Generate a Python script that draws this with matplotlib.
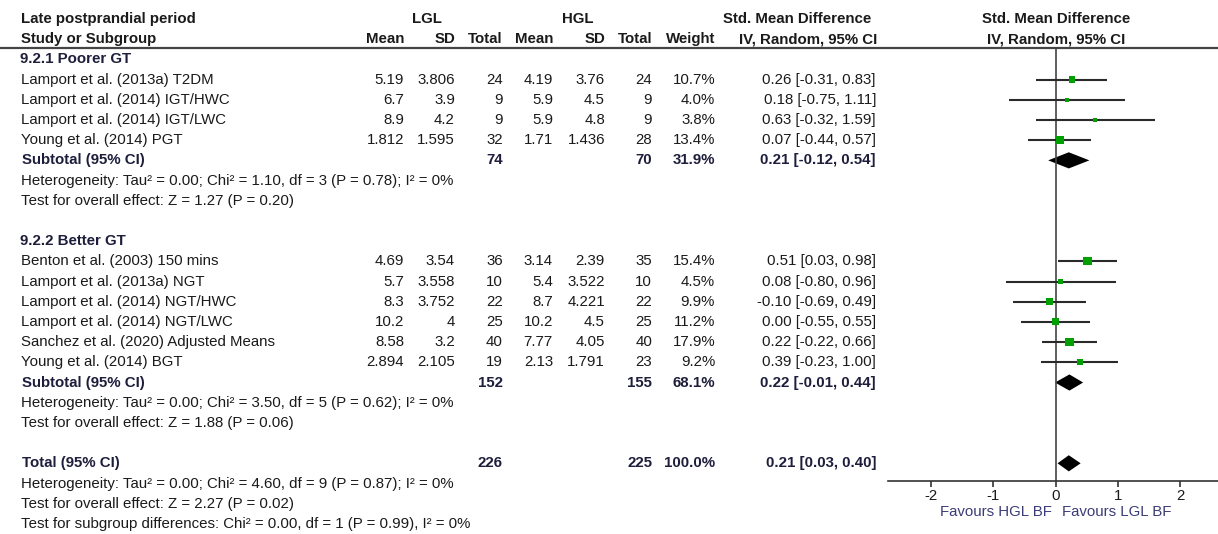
import numpy as np
import matplotlib.pyplot as plt

plt.rcParams['font.family'] = ['Liberation Sans', 'DejaVu Sans']

# subgroup 9.2.1 Poorer GT
poor_study = ['Lamport et al. (2013a) T2DM', 'Lamport et al. (2014) IGT/HWC',
              'Lamport et al. (2014) IGT/LWC', 'Young et al. (2014) PGT']
poor_lgl_mean = ['5.19', '6.7', '8.9', '1.812']
poor_lgl_sd = ['3.806', '3.9', '4.2', '1.595']
poor_lgl_n = [24, 9, 9, 32]
poor_hgl_mean = ['4.19', '5.9', '5.9', '1.71']
poor_hgl_sd = ['3.76', '4.5', '4.8', '1.436']
poor_hgl_n = [24, 9, 9, 28]
poor_weight = [10.7, 4.0, 3.8, 13.4]
poor_smd = [0.26, 0.18, 0.63, 0.07]
poor_lo = [-0.31, -0.75, -0.32, -0.44]
poor_hi = [0.83, 1.11, 1.59, 0.57]

# subgroup 9.2.2 Better GT
better_study = ['Benton et al. (2003) 150 mins', 'Lamport et al. (2013a) NGT',
                'Lamport et al. (2014) NGT/HWC', 'Lamport et al. (2014) NGT/LWC',
                'Sanchez et al. (2020) Adjusted Means', 'Young et al. (2014) BGT']
better_lgl_mean = ['4.69', '5.7', '8.3', '10.2', '8.58', '2.894']
better_lgl_sd = ['3.54', '3.558', '3.752', '4', '3.2', '2.105']
better_lgl_n = [36, 10, 22, 25, 40, 19]
better_hgl_mean = ['3.14', '5.4', '8.7', '10.2', '7.77', '2.13']
better_hgl_sd = ['2.39', '3.522', '4.221', '4.5', '4.05', '1.791']
better_hgl_n = [35, 10, 22, 25, 40, 23]
better_weight = [15.4, 4.5, 9.9, 11.2, 17.9, 9.2]
better_smd = [0.51, 0.08, -0.10, 0.00, 0.22, 0.39]
better_lo = [0.03, -0.80, -0.69, -0.55, -0.22, -0.23]
better_hi = [0.98, 0.96, 0.49, 0.55, 0.66, 1.00]

# pooled estimates: subtotal 1, subtotal 2, overall
pooled_lgl_n = [74, 152, 226]
pooled_hgl_n = [70, 155, 225]
pooled_weight = [31.9, 68.1, 100.0]
pooled_smd = [0.21, 0.22, 0.21]
pooled_lo = [-0.12, -0.01, 0.03]
pooled_hi = [0.54, 0.44, 0.40]

het_text = ['Heterogeneity: Tau\u00b2 = 0.00; Chi\u00b2 = 1.10, df = 3 (P = 0.78); I\u00b2 = 0%',
            'Heterogeneity: Tau\u00b2 = 0.00; Chi\u00b2 = 3.50, df = 5 (P = 0.62); I\u00b2 = 0%',
            'Heterogeneity: Tau\u00b2 = 0.00; Chi\u00b2 = 4.60, df = 9 (P = 0.87); I\u00b2 = 0%']
effect_text = ['Test for overall effect: Z = 1.27 (P = 0.20)',
               'Test for overall effect: Z = 1.88 (P = 0.06)',
               'Test for overall effect: Z = 2.27 (P = 0.02)']
subgroup_test = 'Test for subgroup differences: Chi\u00b2 = 0.00, df = 1 (P = 0.99), I\u00b2 = 0%'

FS = 10.8
INK = '#1a1a1a'
HEAD = '#1e1e3c'

fig = plt.figure(figsize=(12.18, 5.34), dpi=100)

# text table, x in pixels, y in row slots
tab = fig.add_axes([0, 0, 1, 1])
tab.set_xlim(0, 1218)
tab.set_ylim(25.5, -0.94)
tab.axis('off')

# forest plot panel
fp = fig.add_axes([888 / 1218, 0, 330 / 1218, 1])
fp.set_xlim(-2.687, 2.601)
fp.set_ylim(25.5, -0.94)
fp.patch.set_alpha(0)
for s in ['top', 'left', 'right']:
    fp.spines[s].set_visible(False)
axis_y = 22.87
fp.spines['bottom'].set_position(('data', axis_y))
fp.spines['bottom'].set_color('#333333')
fp.spines['bottom'].set_linewidth(1.2)
fp.set_xticks([-2, -1, 0, 1, 2])
fp.set_xticklabels(['-2', '-1', '0', '1', '2'])
fp.tick_params(axis='x', direction='out', length=4.5, width=1.2, color='#333333',
               labelsize=FS, labelcolor=INK, pad=1)
fp.set_yticks([])

# column right edges (pixels)
col_mean1, col_sd1, col_n1 = 404, 455, 503
col_mean2, col_sd2, col_n2 = 553, 605, 652
col_w, col_ci = 715, 876
x_left = 21


def txt(x, y, s, ha='right', bold=False, color=INK):
    tab.text(x, y, s, ha=ha, va='center', fontsize=FS,
             fontweight='bold' if bold else 'normal', color=color)


# headers
txt(x_left, 0, 'Late postprandial period', ha='left', bold=True)
txt(x_left, 1, 'Study or Subgroup', ha='left', bold=True)
txt(427, 0, 'LGL', ha='center', bold=True)
txt(578, 0, 'HGL', ha='center', bold=True)
txt(797, 0, 'Std. Mean Difference', ha='center', bold=True)
txt(808, 1, 'IV, Random, 95% CI', ha='center', bold=True)
for x, s in [(col_mean1, 'Mean'), (col_sd1, 'SD'), (col_n1, 'Total'),
             (col_mean2, 'Mean'), (col_sd2, 'SD'), (col_n2, 'Total'), (col_w, 'Weight')]:
    txt(x, 1, s, bold=True)
fp.text(0, 0, 'Std. Mean Difference', ha='center', va='center', fontsize=FS,
        fontweight='bold', color=INK)
fp.text(0, 1, 'IV, Random, 95% CI', ha='center', va='center', fontsize=FS,
        fontweight='bold', color=INK)
tab.hlines(1.42, 0, 1218, color='#444444', lw=1.6)

groups = [
    ('9.2.1 Poorer GT', 2, poor_study, poor_lgl_mean, poor_lgl_sd, poor_lgl_n,
     poor_hgl_mean, poor_hgl_sd, poor_hgl_n, poor_weight, poor_smd, poor_lo, poor_hi),
    ('9.2.2 Better GT', 11, better_study, better_lgl_mean, better_lgl_sd, better_lgl_n,
     better_hgl_mean, better_hgl_sd, better_hgl_n, better_weight, better_smd, better_lo, better_hi),
]


def diamond(row, est, lo, hi):
    fp.fill([lo, est, hi, est], [row, row - 0.4, row, row + 0.4], color='black', lw=0)


def pooled_row(row, k, label):
    txt(x_left + 1, row, label, ha='left', bold=True, color=HEAD)
    txt(col_n1, row, str(pooled_lgl_n[k]), bold=True, color=HEAD)
    txt(col_n2, row, str(pooled_hgl_n[k]), bold=True, color=HEAD)
    txt(col_w, row, '{:.1f}%'.format(pooled_weight[k]), bold=True, color=HEAD)
    txt(col_ci, row, '{:.2f} [{:.2f}, {:.2f}]'.format(pooled_smd[k], pooled_lo[k], pooled_hi[k]),
        bold=True, color=HEAD)
    diamond(row, pooled_smd[k], pooled_lo[k], pooled_hi[k])
    txt(x_left, row + 1, het_text[k], ha='left')
    txt(x_left, row + 2, effect_text[k], ha='left')


for k, (title, start, study, m1, sd1, n1, m2, sd2, n2, w, smd, lo, hi) in enumerate(groups):
    txt(x_left - 1, start, title, ha='left', bold=True, color=HEAD)
    rows = start + 1 + np.arange(len(study))
    for i, r in enumerate(rows):
        txt(x_left, r, study[i], ha='left')
        txt(col_mean1, r, m1[i])
        txt(col_sd1, r, sd1[i])
        txt(col_n1, r, str(n1[i]))
        txt(col_mean2, r, m2[i])
        txt(col_sd2, r, sd2[i])
        txt(col_n2, r, str(n2[i]))
        txt(col_w, r, '{:.1f}%'.format(w[i]))
        txt(col_ci, r, '{:.2f} [{:.2f}, {:.2f}]'.format(smd[i], lo[i], hi[i]))
    fp.hlines(rows, lo, hi, color='#2a2a2a', lw=1.5, zorder=2)
    # square area follows study weight
    fp.scatter(smd, rows, s=2.2 * np.array(w), marker='s', color='#00a000', lw=0, zorder=3)
    pooled_row(rows[-1] + 1, k, 'Subtotal (95% CI)')

# overall
pooled_row(22, 2, 'Total (95% CI)')
txt(x_left, 25, subgroup_test, ha='left')

fp.vlines(0, 1.43, axis_y, color='#444444', lw=1.2, zorder=1)
fp.text(-0.06, 24.4, 'Favours HGL BF', ha='right', va='center', fontsize=FS, color='#3c3c78')
fp.text(0.10, 24.4, 'Favours LGL BF', ha='left', va='center', fontsize=FS, color='#3c3c78')

fig.savefig('out.png', dpi=100)
